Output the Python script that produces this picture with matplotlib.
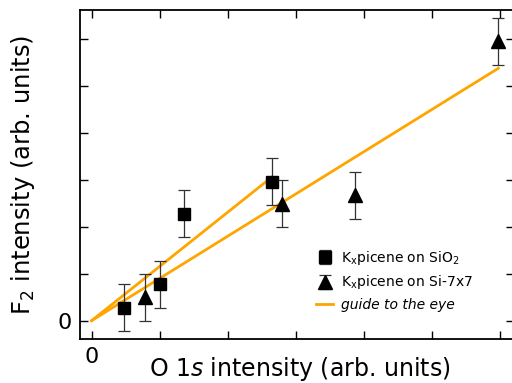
import matplotlib.pyplot as plt

# --------- data ---------#
sq_x = [0.47, 1.00, 1.36, 2.65]
sq_y = [0.28, 0.78, 2.27, 2.96]
sq_err = [0.5, 0.5, 0.5, 0.5]

tri_x = [0.79, 2.80, 3.87, 5.97]
tri_y = [0.50, 2.49, 2.67, 5.95]
tri_err = [0.5, 0.5, 0.5, 0.5]

guide1_x = [0, 2.65]
guide1_y = [0, 3.06]
guide2_x = [0, 5.97]
guide2_y = [0, 5.37]

orange = '#FFA500'
plt.rcParams['font.family'] = ['DejaVu Sans']
plt.rcParams['mathtext.fontset'] = 'dejavusans'

fig = plt.figure(figsize=(5.12, 3.83), dpi=100)
ax = fig.add_axes([80/512, 44/383, 434/512, 329/383])

ax.plot(guide1_x, guide1_y, color=orange, lw=2, zorder=1)
ax.plot(guide2_x, guide2_y, color=orange, lw=2, zorder=1, label='guide to the eye')
ax.errorbar(sq_x, sq_y, yerr=sq_err, fmt='s', color='black', ms=8,
            ecolor='#333333', elinewidth=0.9, capsize=4, capthick=0.9,
            label='K$_\\mathrm{x}$picene on SiO$_2$', zorder=3)
ax.errorbar(tri_x, tri_y, yerr=tri_err, fmt='^', color='black', ms=9.5,
            ecolor='#333333', elinewidth=0.9, capsize=4, capthick=0.9,
            label='K$_\\mathrm{x}$picene on Si-7x7', zorder=3)

ax.set_xlim(-0.17, 6.2)
ax.set_ylim(-0.39, 6.61)
ax.set_xticks(range(7))
ax.set_xticklabels(['0', '', '', '', '', '', ''])
ax.set_yticks(range(7))
ax.set_yticklabels(['0', '', '', '', '', '', ''])
ax.tick_params(direction='in', top=True, right=True, length=6, width=1,
               labelsize=16, pad=6)
for s in ax.spines.values():
    s.set_linewidth(1.3)

ax.set_xlabel('O 1$\\mathit{s}$ intensity (arb. units)', fontsize=17, va='center')
ax.xaxis.set_label_coords(0.507, -0.091)
ax.set_ylabel('F$_2$ intensity (arb. units)', fontsize=17.5, va='center')
ax.yaxis.set_label_coords(-0.132, 0.5)

h, l = ax.get_legend_handles_labels()
leg = ax.legend([h[1], h[2], h[0]], [l[1], l[2], l[0]], loc='lower right',
                bbox_to_anchor=(0.935, 0.045), frameon=False, fontsize=10,
                handlelength=1.2, handletextpad=0.6, labelspacing=0.45)
leg.get_texts()[2].set_style('italic')

fig.savefig('out.png', dpi=100)
